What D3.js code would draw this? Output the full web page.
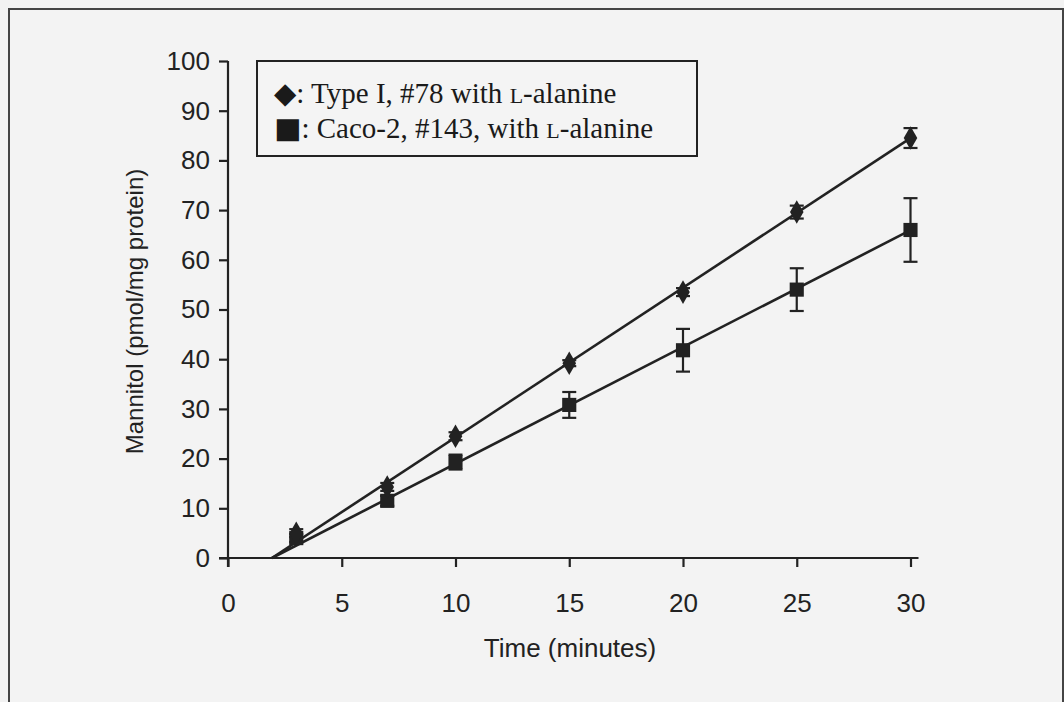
<!DOCTYPE html>
<html>
<head>
<meta charset="utf-8">
<script src="https://cdn.jsdelivr.net/npm/d3@7"></script>
<style>
  html, body { margin: 0; padding: 0; background: #f2f2f2; }
  svg { display: block; }
</style>
</head>
<body>
<svg id="chart" width="1064" height="702"></svg>
<script>
// Sampling times (minutes)
const timesTypeI = [3, 7, 10, 15, 20, 25, 30];
const timesCaco = [3, 7, 10, 15, 20, 25, 30];

// Mannitol uptake (pmol/mg protein), mean values
const typeIValues = [5.0, 14.3, 24.5, 39.2, 53.5, 69.6, 84.5];
const cacoValues = [4.0, 11.5, 19.3, 30.8, 41.8, 54.0, 66.0];

// Error bar half-widths (pmol/mg protein)
const typeIErrors = [0.8, 0.8, 0.8, 0.6, 0.8, 1.3, 2.0];
const cacoErrors = [0.8, 1.0, 1.5, 2.6, 4.3, 4.3, 6.4];

// Linear fits: [slope, intercept]
const typeIFit = [3.01, -5.81];
const cacoFit = [2.35, -4.54];

const xTicks = [0, 5, 10, 15, 20, 25, 30];
const yTicks = [0, 10, 20, 30, 40, 50, 60, 70, 80, 90, 100];

const legendLabels = [
  { sym: "\u25C6", pre: ": Type I, #78 with ", sc: "L", post: "-alanine" },
  { sym: "\u25A0", pre: ": Caco-2, #143, with ", sc: "L", post: "-alanine" }
];

const svg = d3.select("#chart");
const ink = "#222";

// Outer frame
svg.append("rect")
  .attr("x", 9).attr("y", 9)
  .attr("width", 1054).attr("height", 720)
  .attr("fill", "#f3f3f3")
  .attr("stroke", "#444").attr("stroke-width", 2);

const x = d3.scaleLinear().domain([0, 30]).range([228, 910.5]);
const y = d3.scaleLinear().domain([0, 100]).range([558, 61]);

const sansFont = "'Liberation Sans', Arial, sans-serif";

// Axes
const xAxis = svg.append("g")
  .attr("transform", `translate(0,${y(0)})`)
  .call(d3.axisBottom(x).tickValues(xTicks).tickSize(9).tickPadding(27).tickSizeOuter(0));
const yAxis = svg.append("g")
  .attr("transform", `translate(${x(0)},0)`)
  .call(d3.axisLeft(y).tickValues(yTicks).tickSize(9).tickPadding(9).tickSizeOuter(0));

[xAxis, yAxis].forEach(g => {
  g.select(".domain").attr("stroke", ink).attr("stroke-width", 2.2);
  g.selectAll(".tick line").attr("stroke", ink).attr("stroke-width", 2.2);
  g.selectAll(".tick text")
    .attr("fill", "#222")
    .style("font-family", sansFont)
    .style("font-size", "26px");
});
// extend the domains slightly so the axes meet cleanly
xAxis.select(".domain").attr("d", `M${x(0) - 9},0H${x(30) + 8}`);
yAxis.select(".domain").attr("d", `M0,${y(100)}V${y(0) + 9}`);

// Axis titles
svg.append("text")
  .attr("x", 570).attr("y", 657)
  .attr("text-anchor", "middle")
  .style("font-family", sansFont).style("font-size", "26px")
  .attr("fill", "#222")
  .text("Time (minutes)");

svg.append("text")
  .attr("transform", `translate(143,${(y(0) + y(100)) / 2 + 2}) rotate(-90)`)
  .attr("text-anchor", "middle")
  .style("font-family", sansFont).style("font-size", "24px")
  .attr("fill", "#222")
  .text("Mannitol (pmol/mg protein)");

// Fitted lines, drawn from the x-intercept to the last time point
function drawFit(fit) {
  const x0 = -fit[1] / fit[0];
  const xs = [x0, 30];
  svg.append("path")
    .datum(xs)
    .attr("fill", "none")
    .attr("stroke", ink)
    .attr("stroke-width", 2.6)
    .attr("d", d3.line().x(d => x(d)).y(d => y(fit[0] * d + fit[1])));
}
drawFit(typeIFit);
drawFit(cacoFit);

// Error bars
function drawErrors(times, vals, errs) {
  const g = svg.append("g").attr("stroke", ink).attr("stroke-width", 2.2);
  times.forEach((t, i) => {
    const cx = x(t), hi = y(vals[i] + errs[i]), lo = y(vals[i] - errs[i]);
    g.append("line").attr("x1", cx).attr("x2", cx).attr("y1", hi).attr("y2", lo);
    g.append("line").attr("x1", cx - 7).attr("x2", cx + 7).attr("y1", hi).attr("y2", hi);
    g.append("line").attr("x1", cx - 7).attr("x2", cx + 7).attr("y1", lo).attr("y2", lo);
  });
}
drawErrors(timesTypeI, typeIValues, typeIErrors);
drawErrors(timesCaco, cacoValues, cacoErrors);

// Markers
svg.append("g").selectAll("path")
  .data(timesCaco.map((t, i) => [t, cacoValues[i]]))
  .join("path")
  .attr("transform", d => `translate(${x(d[0])},${y(d[1])})`)
  .attr("d", d3.symbol(d3.symbolSquare, 200)())
  .attr("fill", ink);

svg.append("g").selectAll("path")
  .data(timesTypeI.map((t, i) => [t, typeIValues[i]]))
  .join("path")
  .attr("transform", d => `translate(${x(d[0])},${y(d[1])})`)
  .attr("d", d3.symbol(d3.symbolDiamond, 160)())
  .attr("fill", ink);

// Legend
const legend = svg.append("g");
legend.append("rect")
  .attr("x", 257).attr("y", 61)
  .attr("width", 440).attr("height", 95)
  .attr("fill", "#f4f4f4")
  .attr("stroke", ink).attr("stroke-width", 2);

legendLabels.forEach((d, i) => {
  const t = legend.append("text")
    .attr("x", 274).attr("y", 103 + i * 35)
    .style("font-family", "'Liberation Serif', 'Times New Roman', serif")
    .style("font-size", "29px")
    .attr("fill", "#1a1a1a");
  t.append("tspan")
    .style("font-family", "'DejaVu Sans', sans-serif")
    .style("font-size", "29px")
    .text(d.sym);
  t.append("tspan").text(d.pre);
  t.append("tspan").style("font-size", "22px").text(d.sc);
  t.append("tspan").text(d.post);
});
</script>
</body>
</html>
